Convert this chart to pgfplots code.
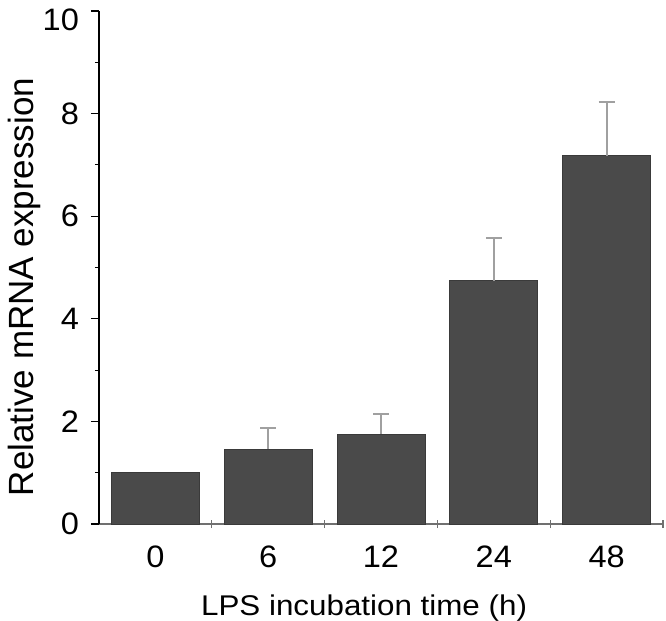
\documentclass[border=0pt]{standalone}
\usepackage{pgfplots}
\pgfplotsset{compat=1.18}
\usepackage{fontspec}
\setmainfont{Liberation Sans}
\definecolor{barfill}{HTML}{4A4A4A}
\definecolor{baredge}{HTML}{3A3A3A}
\definecolor{errcol}{HTML}{A0A0A0}
\definecolor{xaxcol}{HTML}{707070}
\begin{document}
\begin{tikzpicture}
\begin{axis}[
  name=ax,
  scale only axis,
  width=564bp, height=513bp,
  xmin=-0.5, xmax=4.5,
  ymin=0, ymax=10,
  axis x line*=bottom,
  axis y line*=left,
  x axis line style={draw=xaxcol, line width=1.2bp},
  y axis line style={draw=black, line width=1.2bp},
  xtick={0,1,2,3,4},
  xticklabels={0,6,12,24,48},
  x tick style={draw=none},
  ytick={0,2,4,6,8,10},
  yticklabels={0,2,4,6,8,\raisebox{-9bp}[\height][\depth]{10}},
  minor y tick num=1,
  tick align=outside,
  major tick length=8bp,
  minor tick length=4bp,
  y tick style={line width=1.2bp, black},
  /pgf/number format/assume math mode=true,
  tick label style={font=\fontsize{31bp}{34bp}\selectfont, xscale=1.05},
  x tick label style={yshift=-10bp},
  y tick label style={xshift=-8bp},
  xlabel={LPS incubation time (h)},
  xlabel style={font=\fontsize{28.5bp}{32bp}\selectfont, xscale=1.1,
    at={([yshift=-91bp]axis description cs:0.47,0)}, anchor=base},
  ylabel={Relative mRNA expression},
  ylabel style={font=\fontsize{35bp}{40bp}\selectfont,
    at={([xshift=-65bp]axis description cs:0,0.462)}, anchor=base},
  clip=false,
]
\addplot[ybar, bar width=88bp, fill=barfill, draw=baredge, line width=0.8bp]
  coordinates {(0,1.0) (1,1.46) (2,1.75) (3,4.74) (4,7.18)};
\addplot[draw=none, mark=none, forget plot,
  error bars/.cd, y dir=plus, y explicit,
  error bar style={draw=errcol, line width=2bp},
  error mark options={rotate=90, mark size=8bp, draw=errcol, line width=2bp}]
  coordinates {(1,1.46) +- (0,0.42) (2,1.75) +- (0,0.39) (3,4.74) +- (0,0.84) (4,7.18) +- (0,1.04)};
\pgfplotsinvokeforeach{0.5,1.5,2.5,3.5,4.5}{
  \draw[xaxcol, line width=1.2bp] ([yshift=-4bp]axis cs:#1,0) -- ([yshift=4bp]axis cs:#1,0);
}
\end{axis}
\pgfresetboundingbox
\useasboundingbox ([xshift=-99bp,yshift=-96bp]ax.south west) rectangle ([xshift=3bp,yshift=11bp]ax.north east);
\end{tikzpicture}
\end{document}
